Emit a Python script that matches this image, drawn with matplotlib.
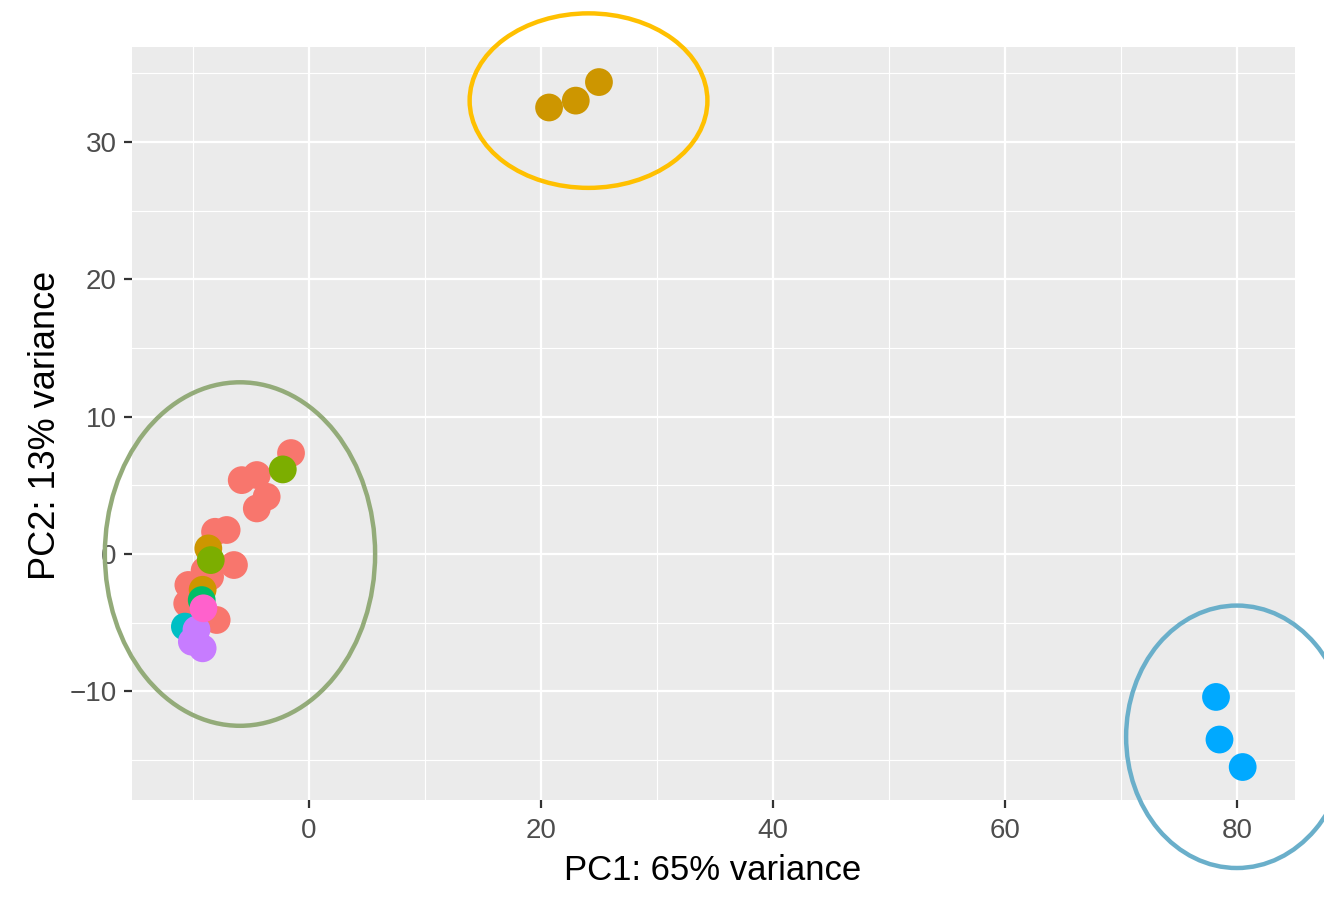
import numpy as np
import matplotlib
matplotlib.use("Agg")
import matplotlib.pyplot as plt
from matplotlib.patches import Ellipse
from matplotlib.ticker import MultipleLocator

plt.rcParams['font.family'] = ['Liberation Sans', 'DejaVu Sans']

# PCA scores per group
red_x = [-1.55, -4.5, -5.8, -3.65, -4.5, -7.1, -8.1, -6.47, -8.53, -10.4, -9.7, -10.5, -7.96, -9.0]
red_y = [7.35, 5.75, 5.38, 4.17, 3.32, 1.75, 1.62, -0.8, -1.65, -2.25, -3.1, -3.6, -4.8, -1.2]
gold_x = [-8.68, -9.17, 20.7, 23.0, 25.0]
gold_y = [0.41, -2.6, 32.5, 33.0, 34.35]
green_x = [-2.26, -8.47]
green_y = [6.16, -0.44]
teal_x = [-9.25]
teal_y = [-3.35]
cyan_x = [-10.7]
cyan_y = [-5.28]
blue_x = [78.2, 78.5, 80.5]
blue_y = [-10.4, -13.5, -15.5]
purple_x = [-9.7, -10.1, -9.17]
purple_y = [-5.5, -6.38, -6.86]
pink_x = [-9.1]
pink_y = [-3.95]

groups = [
    (red_x, red_y, '#F8766D'),
    (gold_x, gold_y, '#CD9600'),
    (green_x, green_y, '#7CAE00'),
    (teal_x, teal_y, '#00BE67'),
    (cyan_x, cyan_y, '#00BFC4'),
    (blue_x, blue_y, '#00A9FF'),
    (purple_x, purple_y, '#C77CFF'),
    (pink_x, pink_y, '#FF61CC'),
]

# hand-drawn cluster rings: centre x, centre y, width, height, colour
rings = [
    (24.1, 33.0, 20.5, 12.7, '#FFC000'),
    (-5.95, 0.0, 23.3, 25.0, '#93AB79'),
    (80.0, -13.3, 19.1, 19.1, '#6AAFCA'),
]

fig = plt.figure(figsize=(13.24, 9.01), dpi=100)
ax = fig.add_axes([0.0997, 0.1121, 0.8783, 0.8357])
ax.set_facecolor('#EBEBEB')
for s in ax.spines.values():
    s.set_visible(False)

ax.set_xlim(-15.26, 85.0)
ax.set_ylim(-17.9, 36.9)
ax.xaxis.set_major_locator(MultipleLocator(20))
ax.xaxis.set_minor_locator(MultipleLocator(10))
ax.yaxis.set_major_locator(MultipleLocator(10))
ax.yaxis.set_minor_locator(MultipleLocator(5))
ax.grid(which='major', color='white', linewidth=1.6)
ax.grid(which='minor', color='white', linewidth=0.8)
ax.set_axisbelow(True)
ax.tick_params(which='major', length=6, width=1.6, color='#333333',
               labelcolor='#4D4D4D', labelsize=20, pad=5)
ax.tick_params(axis='x', pad=7)
ax.tick_params(which='minor', length=0)

for gx, gy, col in groups:
    ax.scatter(gx, gy, s=400, color=col, edgecolors='none', zorder=3)

for cx, cy, w, h, col in rings:
    ax.add_patch(Ellipse((cx, cy), w, h, fill=False, edgecolor=col,
                         linewidth=3.2, zorder=4, clip_on=False))

ax.set_xlabel('PC1: 65% variance', fontsize=25, va='center')
ax.xaxis.set_label_coords(0.499, -0.094)
ax.set_ylabel('PC2: 13% variance', fontsize=26, va='center')
ax.yaxis.set_label_coords(-0.0748, 0.498)

fig.savefig('out.png', dpi=100)
